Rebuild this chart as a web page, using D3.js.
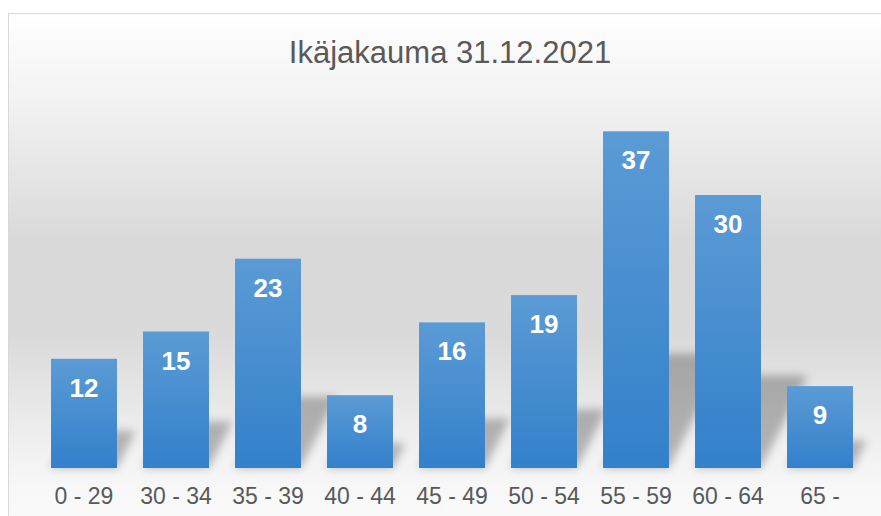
<!DOCTYPE html>
<html>
<head>
<meta charset="utf-8">
<script src="https://cdn.jsdelivr.net/npm/d3@7"></script>
<style>
  body { margin: 0; background: #fff; }
  svg { display: block; font-family: "Liberation Sans", Arial, sans-serif; }
</style>
</head>
<body>
<svg id="chart" width="881" height="516"></svg>
<script>
const TITLE = 'Ikäjakauma 31.12.2021';
const AGE_GROUPS = ['0 - 29', '30 - 34', '35 - 39', '40 - 44', '45 - 49', '50 - 54', '55 - 59', '60 - 64', '65 -'];
const COUNTS = [12, 15, 23, 8, 16, 19, 37, 30, 9];
const Y_MAX = 40;

const WIDTH = 881, HEIGHT = 516;
const BASELINE = 468;

const svg = d3.select('#chart');
const defs = svg.append('defs');

// background of the chart area
const bg = defs.append('linearGradient')
    .attr('id', 'bg')
    .attr('x1', 0).attr('y1', 0).attr('x2', 0).attr('y2', 1);
[[0, '#ffffff'], [0.18, '#f1f1f1'], [0.44, '#d9d9d9'], [0.62, '#dadada'],
 [0.84, '#f1f1f1'], [0.92, '#f8f8f8'], [1, '#fafafa']]
    .forEach(([o, c]) => bg.append('stop').attr('offset', o).attr('stop-color', c));

const barGrad = defs.append('linearGradient')
    .attr('id', 'barGrad')
    .attr('x1', 0).attr('y1', 0).attr('x2', 0).attr('y2', 1);
barGrad.append('stop').attr('offset', 0).attr('stop-color', '#5b9bd5');
barGrad.append('stop').attr('offset', 1).attr('stop-color', '#3380cb');

defs.append('filter')
    .attr('id', 'blur')
    .attr('x', '-50%').attr('y', '-50%').attr('width', '200%').attr('height', '200%')
  .append('feGaussianBlur')
    .attr('stdDeviation', 4);

svg.append('rect')
    .attr('x', 8.5).attr('y', 13.5)
    .attr('width', 900).attr('height', 520)
    .attr('fill', 'url(#bg)')
    .attr('stroke', '#d9d9d9');

const x = d3.scaleBand()
    .domain(AGE_GROUPS)
    .range([38, 866])
    .paddingInner(0.283)
    .paddingOuter(0.1415);

const y = d3.scaleLinear()
    .domain([0, Y_MAX])
    .range([BASELINE, 104]);

const data = AGE_GROUPS.map((g, i) => ({ group: g, value: COUNTS[i] }));

// perspective shadows (diagonal, upper right)
svg.append('g')
    .attr('filter', 'url(#blur)')
  .selectAll('path')
  .data(data)
  .join('path')
    .attr('fill', '#000')
    .attr('fill-opacity', 0.26)
    .attr('d', d => {
        const x0 = x(d.group), x1 = x0 + x.bandwidth();
        const h = (BASELINE - y(d.value)) * 0.34;
        const s = h * 0.5;
        return `M${x0},${BASELINE}L${x1},${BASELINE}L${x1 + s},${BASELINE - h}L${x0 + s},${BASELINE - h}Z`;
    });

svg.append('g')
  .selectAll('rect')
  .data(data)
  .join('rect')
    .attr('x', d => x(d.group))
    .attr('y', d => y(d.value))
    .attr('width', x.bandwidth())
    .attr('height', d => BASELINE - y(d.value))
    .attr('fill', 'url(#barGrad)');

svg.append('g')
  .selectAll('text')
  .data(data)
  .join('text')
    .attr('x', d => x(d.group) + x.bandwidth() / 2)
    .attr('y', d => y(d.value) + 38)
    .attr('text-anchor', 'middle')
    .attr('fill', '#fff')
    .attr('font-weight', 'bold')
    .attr('font-size', 26)
    .text(d => d.value);

// category axis
const xAxis = svg.append('g')
    .attr('transform', `translate(0,${BASELINE})`)
    .call(d3.axisBottom(x).tickSize(0).tickPadding(0));
xAxis.select('.domain').remove();
xAxis.selectAll('text')
    .attr('dy', null)
    .attr('y', 36)
    .attr('fill', '#595959')
    .attr('font-size', 23)
    .attr('font-family', '"Liberation Sans", Arial, sans-serif');

svg.append('text')
    .attr('x', 450)
    .attr('y', 63)
    .attr('text-anchor', 'middle')
    .attr('fill', '#595959')
    .attr('font-size', 31)
    .text(TITLE);
</script>
</body>
</html>
